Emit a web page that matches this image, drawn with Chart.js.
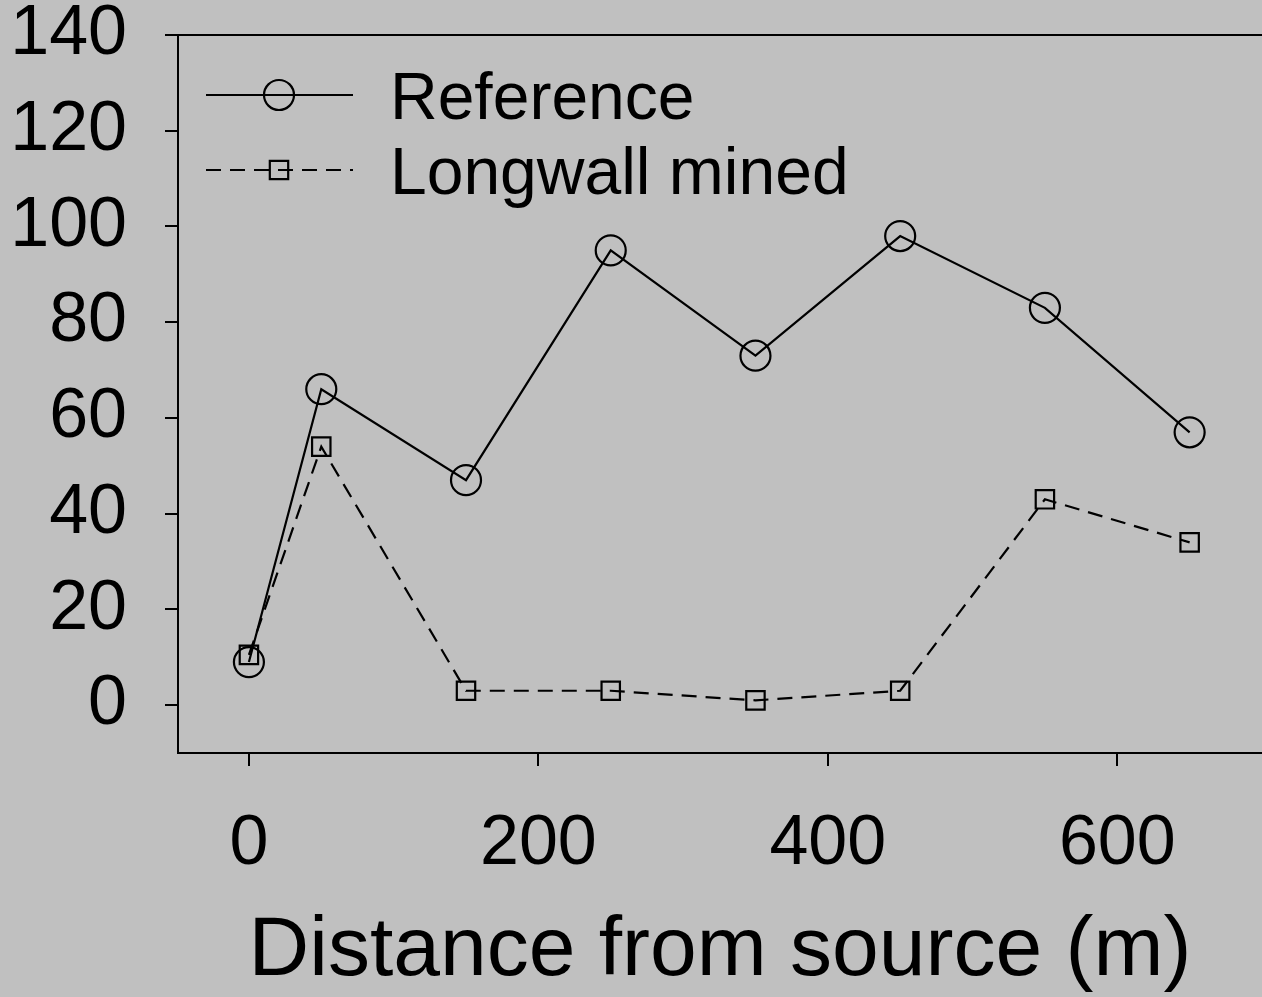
<!DOCTYPE html>
<html>
<head>
<meta charset="utf-8">
<script src="https://cdn.jsdelivr.net/npm/chart.js@4/dist/chart.umd.min.js"></script>
<style>
  html, body { margin: 0; padding: 0; background: #c0c0c0; overflow: hidden; }
  canvas { display: block; }
</style>
</head>
<body>
<canvas id="chart" width="1262" height="997"></canvas>
<script>
// Data
const distances = [0, 50, 150, 250, 350, 450, 550, 650];
const referenceValues = [9, 66, 47, 95, 73, 98, 83, 57];
const longwallValues = [10.5, 54, 3, 3, 1, 3, 43, 34];
const xTicks = [0, 200, 400, 600];
const yTicks = [0, 20, 40, 60, 80, 100, 120, 140];
const seriesNames = ['Reference', 'Longwall mined'];

const FONT = '"Liberation Sans", Arial, sans-serif';

function toPoints(values) {
    return distances.map((d, i) => ({ x: d, y: values[i] }));
}

// Top frame line + legend drawn by hand
const framePlugin = {
    id: 'frame',
    afterDraw(chart) {
        const ctx = chart.ctx;
        const area = chart.chartArea;
        ctx.save();
        ctx.strokeStyle = '#000';
        ctx.lineWidth = 2;
        ctx.beginPath();
        ctx.moveTo(area.left, area.top);
        ctx.lineTo(area.right, area.top);
        ctx.stroke();

        // legend
        const rows = [{ y: 95, base: 119 }, { y: 170, base: 194 }];
        chart.data.datasets.forEach((ds, i) => {
            const r = rows[i];
            ctx.lineWidth = ds.borderWidth;
            ctx.setLineDash(ds.borderDash || []);
            ctx.beginPath();
            ctx.moveTo(206, r.y);
            ctx.lineTo(353, r.y);
            ctx.stroke();
            ctx.setLineDash([]);
            ctx.lineWidth = ds.pointBorderWidth;
            ctx.beginPath();
            if (ds.pointStyle === 'circle') {
                ctx.arc(279, r.y, ds.pointRadius, 0, Math.PI * 2);
            } else {
                const s = Math.SQRT1_2 * ds.pointRadius;
                ctx.rect(279 - s, r.y - s, 2 * s, 2 * s);
            }
            ctx.stroke();
            ctx.fillStyle = '#000';
            ctx.font = '66px ' + FONT;
            ctx.textBaseline = 'alphabetic';
            ctx.textAlign = 'left';
            ctx.fillText(ds.label, 390, r.base);
        });
        ctx.restore();
    }
};

const ctx = document.getElementById('chart').getContext('2d');
new Chart(ctx, {
    type: 'line',
    data: {
        datasets: [
            {
                label: seriesNames[0],
                data: toPoints(referenceValues),
                borderColor: '#000',
                borderWidth: 2.2,
                pointStyle: 'circle',
                pointRadius: 15,
                pointBorderWidth: 2.2,
                pointBorderColor: '#000',
                pointBackgroundColor: 'rgba(0,0,0,0)',
                fill: false,
                tension: 0
            },
            {
                label: seriesNames[1],
                data: toPoints(longwallValues),
                borderColor: '#000',
                borderWidth: 2.2,
                borderDash: [15, 9],
                pointStyle: 'rect',
                pointRadius: 13,
                pointBorderWidth: 2.2,
                pointBorderColor: '#000',
                pointBackgroundColor: 'rgba(0,0,0,0)',
                fill: false,
                tension: 0
            }
        ]
    },
    options: {
        responsive: false,
        animation: false,
        devicePixelRatio: 1,
        layout: { autoPadding: false, padding: { top: 35, right: 0, left: 0, bottom: 0 } },
        plugins: {
            legend: { display: false },
            tooltip: { enabled: false }
        },
        scales: {
            x: {
                type: 'linear',
                min: -49,
                max: 700,
                afterBuildTicks: scale => { scale.ticks = xTicks.map(v => ({ value: v })); },
                afterFit: scale => {
                    scale.height = 244;
                    scale.paddingLeft = 0;
                    scale.paddingRight = 0;
                },
                border: { display: true, color: '#000', width: 2 },
                grid: { display: true, drawOnChartArea: false, drawTicks: true, tickLength: 13, color: '#000', lineWidth: 2 },
                ticks: {
                    color: '#000',
                    padding: 37,
                    maxRotation: 0,
                    font: { family: FONT, size: 70 }
                },
                title: {
                    display: true,
                    text: 'Distance from source (m)',
                    color: '#000',
                    font: { family: FONT, size: 84, lineHeight: 1 },
                    padding: { top: 0, bottom: 3 }
                }
            },
            y: {
                type: 'linear',
                min: -10,
                max: 140,
                afterBuildTicks: scale => { scale.ticks = yTicks.map(v => ({ value: v })); },
                afterFit: scale => {
                    scale.width = 178;
                    scale.paddingTop = 0;
                    scale.paddingBottom = 0;
                },
                border: { display: true, color: '#000', width: 2 },
                grid: { display: true, drawOnChartArea: false, drawTicks: true, tickLength: 13, color: '#000', lineWidth: 2 },
                ticks: {
                    color: '#000',
                    padding: 38,
                    font: { family: FONT, size: 70 }
                }
            }
        }
    },
    plugins: [framePlugin]
});
</script>
</body>
</html>
